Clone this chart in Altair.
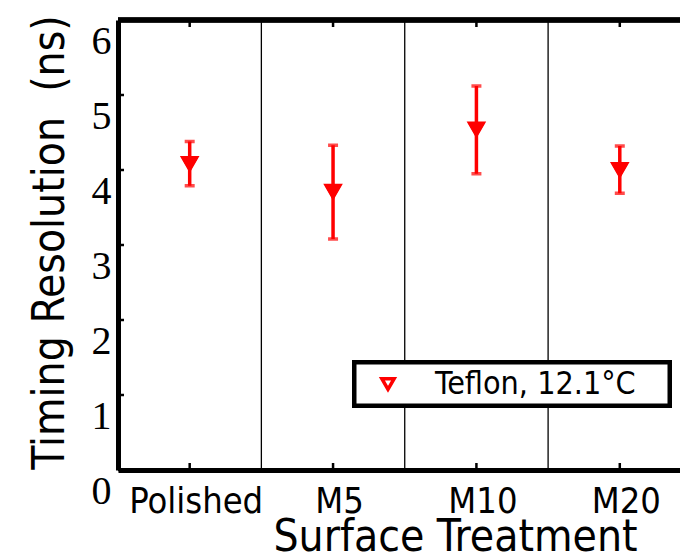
import altair as alt
import pandas as pd

# ---- data ----
categories = ["Polished", "M5", "M10", "M20"]
positions = [1, 2, 3, 4]
timing = [4.08, 3.71, 4.54, 4.00]
err_low = [3.79, 3.08, 3.95, 3.69]
err_high = [4.38, 4.33, 5.12, 4.32]
series_name = "Teflon, 12.1°C"
y_ticks = [0, 1, 2, 3, 4, 5, 6]

X_MIN, X_MAX = 0.5, 4.42
Y_MIN, Y_MAX = 0, 6
W, H = 562, 450

SANS = "DejaVu Sans Condensed, DejaVu Sans"
SERIF = "Liberation Serif"

df = pd.DataFrame({
    "pos": positions,
    "cat": categories,
    "t": timing,
    "lo": err_low,
    "hi": err_high,
    "series": [series_name] * len(categories),
})
seps = pd.DataFrame({"sep": [(a + b) / 2 for a, b in zip(positions[:-1], positions[1:])]})
yt = pd.DataFrame({"v": y_ticks})

label_expr = "[" + ",".join("'" + c + "'" for c in categories) + "][datum.value - 1]"

xscale = alt.Scale(domain=[X_MIN, X_MAX], nice=False, zero=False)
yscale = alt.Scale(domain=[Y_MIN, Y_MAX], nice=False, zero=False)

xaxis = alt.Axis(
    values=positions, labelExpr=label_expr, ticks=False, grid=False,
    domainColor="black", domainWidth=5,
    labelFont=SANS, labelFontSize=36, labelColor="black",
    labelBaseline="alphabetic", labelPadding=42, labelOffset=6,
    labelOverlap=False, labelFlush=False, labelBound=False,
    title="Surface Treatment", titleFont=SANS, titleFontSize=44,
    titleFontWeight="normal", titleColor="black",
    titleX=337, titleY=80, titleAlign="center", titleBaseline="alphabetic",
)
yaxis = alt.Axis(
    values=y_ticks, format="d", ticks=False, grid=False,
    domainColor="black", domainWidth=5,
    labelFont=SERIF, labelFontSize=40, labelColor="black",
    labelAlign="right", labelBaseline="alphabetic", labelPadding=7, labelOffset=33,
    labelOverlap=False, labelFlush=False, labelBound=False,
    title="Timing Resolution\u00a0 (ns)", titleFont=SANS, titleFontSize=44,
    titleFontWeight="normal", titleColor="black",
    titleAngle=270, titleX=-55, titleY=222, titleAlign="center", titleBaseline="alphabetic",
)

base = alt.Chart(df)

# category separators
sep_layer = alt.Chart(seps).mark_rule(color="black", strokeWidth=1.3).encode(
    x=alt.X("sep:Q", scale=xscale, axis=xaxis),
    y=alt.datum(Y_MIN, scale=yscale, axis=yaxis),
    y2=alt.datum(Y_MAX),
)

# top frame line
top_line = alt.Chart(seps).mark_rule(color="black", strokeWidth=5).encode(
    x=alt.datum(X_MIN), x2=alt.datum(X_MAX), y=alt.datum(Y_MAX)
)

# inward tick marks
ytick_layer = alt.Chart(yt).mark_rule(color="black", strokeWidth=2.5).encode(
    y="v:Q", x=alt.value(0), x2=alt.value(6)
)
xtick_bottom = base.mark_rule(color="black", strokeWidth=2.5).encode(
    x="pos:Q", y=alt.value(H), y2=alt.value(H - 7)
)
xtick_top = base.mark_rule(color="black", strokeWidth=2.5).encode(
    x="pos:Q", y=alt.value(0), y2=alt.value(7)
)

# legend frame (thick black box)
legend_frame = alt.Chart(seps).mark_rect(
    fill="white", stroke="black", strokeWidth=4.5
).encode(
    x=alt.value(236.25), x2=alt.value(551.75), y=alt.value(342.25), y2=alt.value(385.75)
)

# error bars
bars = base.mark_rule(color="red", strokeWidth=3.5).encode(
    x="pos:Q", y="lo:Q", y2="hi:Q"
)
caps_lo = base.mark_tick(color="red", orient="horizontal", size=10, thickness=3.5).encode(
    x="pos:Q", y="lo:Q"
)
caps_hi = base.mark_tick(color="red", orient="horizontal", size=10, thickness=3.5).encode(
    x="pos:Q", y="hi:Q"
)

# hollow markers carry the legend entry
points_outline = base.mark_point(
    shape="triangle-down", filled=False, strokeWidth=3.5, size=110, opacity=1,
).encode(
    x="pos:Q", y="t:Q",
    color=alt.Color(
        "series:N",
        scale=alt.Scale(range=["red"]),
        legend=alt.Legend(
            title=None, orient="none", legendX=236, legendY=342,
            padding=6, symbolOffset=12, symbolSize=150, symbolStrokeWidth=3.5,
            labelFont=SANS, labelFontSize=32, labelColor="black", labelOffset=31,
            labelLimit=400,
        ),
    ),
)
# filled markers as drawn in the plot
points = base.mark_point(
    shape="triangle-down", filled=True, color="red", stroke="red",
    strokeWidth=2, size=260, opacity=1,
).encode(x="pos:Q", y="t:Q")

chart = alt.layer(
    sep_layer, top_line, ytick_layer, xtick_bottom, xtick_top, legend_frame,
    bars, caps_lo, caps_hi, points_outline, points,
).properties(
    width=W, height=H,
    autosize=alt.AutoSizeParams(type="none"),
    padding={"left": 118, "top": 20, "right": 0, "bottom": 86},
).configure_view(stroke=None).configure(background="white")

chart.save("out.html", embed_options={"renderer": "svg", "actions": False})
